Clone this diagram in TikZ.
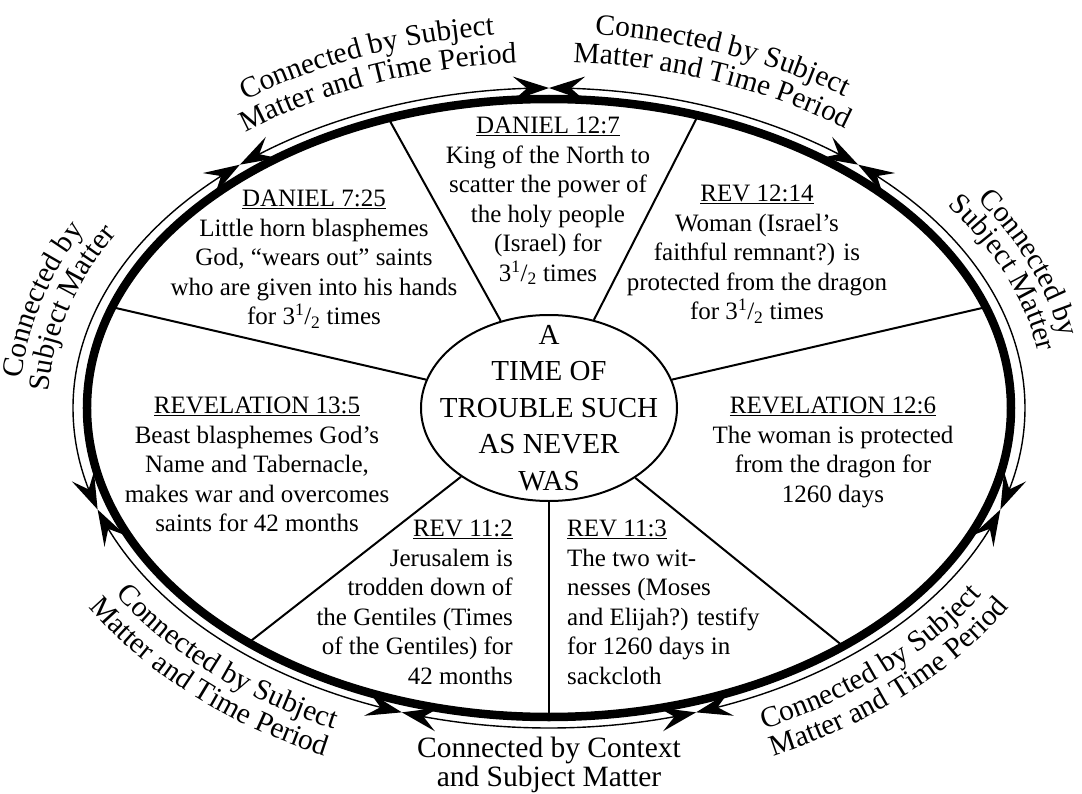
\documentclass[tikz,border=0pt]{standalone}
\usepackage{fontspec}
\setmainfont{Liberation Serif}
\usetikzlibrary{shapes.geometric,arrows.meta,bending,decorations.text}
\newcommand\lblfont{\fontsize{29.5}{30}\selectfont}
\begin{document}
\begin{tikzpicture}[x=1pt,y=1pt,
  sect/.style={font=\fontsize{25}{29.5}\selectfont, inner sep=0pt},
  spoke/.style={line width=2pt},
  tipx/.tip={Stealth[length=36pt,width=24pt,inset=14pt]},
  connarc/.style={line width=1.4pt, tipx-tipx},
  lbl/.style={decorate, decoration={text along path, text align=center, text={#1}}},
]
\useasboundingbox (-549,-385) rectangle (533,408);
% rings
\node[ellipse, draw, line width=8.5pt, minimum width=924pt, minimum height=618pt, inner sep=0pt, outer sep=0pt] (ring) at (0,0) {};
\node[ellipse, draw, line width=2pt, fill=white, minimum width=256pt, minimum height=186pt, inner sep=0pt] (core) at (0,0) {};
% spokes
\draw[spoke] (core) -- (ring.119.5);
\draw[spoke] (core) -- (ring.63.5);
\draw[spoke] (core) -- (ring.13.3);
\draw[spoke] (core) -- (ring.-39);
\draw[spoke] (core) -- (ring.-90);
\draw[spoke] (core) -- (ring.-142.4);
\draw[spoke] (core) -- (ring.167);
% junctions on thin ring
\coordinate (j1) at ({476*cos(49.5)},{320*sin(49.5)});
\coordinate (j2) at ({476*cos(90)},{320*sin(90)});
\coordinate (j3) at ({476*cos(130.5)},{320*sin(130.5)});
\coordinate (j4) at ({476*cos(198.5)},{320*sin(198.5)});
\coordinate (j5) at ({476*cos(252)},{320*sin(252)});
\coordinate (j6) at ({476*cos(288)},{320*sin(288)});
\coordinate (j7) at ({476*cos(-18.5)},{320*sin(-18.5)});
\draw[connarc] (j1) arc[start angle=49.5, end angle=90, x radius=476, y radius=320];
\draw[connarc] (j2) arc[start angle=90, end angle=130.5, x radius=476, y radius=320];
\draw[connarc] (j3) arc[start angle=130.5, end angle=198.5, x radius=476, y radius=320];
\draw[connarc] (j4) arc[start angle=198.5, end angle=252, x radius=476, y radius=320];
\draw[connarc] (j5) arc[start angle=252, end angle=288, x radius=476, y radius=320];
\draw[connarc] (j6) arc[start angle=288, end angle=341.5, x radius=476, y radius=320];
\draw[connarc] (j7) arc[start angle=-18.5, end angle=49.5, x radius=476, y radius=320];
% curved labels: top-left
\path[lbl={|\lblfont|Connected by Subject}] ({531*cos(136)},{375*sin(136)}) arc[start angle=136, end angle=86, x radius=531, y radius=375];
\path[lbl={|\lblfont|Matter and Time Period}] ({502*cos(136)},{346*sin(136)}) arc[start angle=136, end angle=86, x radius=502, y radius=346];
% top-right
\path[lbl={|\lblfont|Connected by Subject}] ({531*cos(95)},{375*sin(95)}) arc[start angle=95, end angle=45, x radius=531, y radius=375];
\path[lbl={|\lblfont|Matter and Time Period}] ({502*cos(95)},{346*sin(95)}) arc[start angle=95, end angle=45, x radius=502, y radius=346];
% right
\path[lbl={|\lblfont|Connected by}] ({522*cos(53)},{366*sin(53)}) arc[start angle=53, end angle=-11, x radius=522, y radius=366];
\path[lbl={|\lblfont|Subject Matter}] ({496*cos(53)},{340*sin(53)}) arc[start angle=53, end angle=-11, x radius=496, y radius=340];
% left
\path[lbl={|\lblfont|Connected by}] ({529*cos(197)},{373*sin(197)}) arc[start angle=197, end angle=133, x radius=529, y radius=373];
\path[lbl={|\lblfont|Subject Matter}] ({501*cos(197)},{345*sin(197)}) arc[start angle=197, end angle=133, x radius=501, y radius=345];
% bottom-left
\path[lbl={|\lblfont|Connected by Subject}] ({510*cos(202.5)},{354*sin(202.5)}) arc[start angle=202.5, end angle=252.5, x radius=510, y radius=354];
\path[lbl={|\lblfont|Matter and Time Period}] ({539*cos(202.5)},{383*sin(202.5)}) arc[start angle=202.5, end angle=252.5, x radius=539, y radius=383];
% bottom-right
\path[lbl={|\lblfont|Connected by Subject}] ({510*cos(-72.5)},{354*sin(-72.5)}) arc[start angle=-72.5, end angle=-22.5, x radius=510, y radius=354];
\path[lbl={|\lblfont|Matter and Time Period}] ({539*cos(-72.5)},{383*sin(-72.5)}) arc[start angle=-72.5, end angle=-22.5, x radius=539, y radius=383];
% bottom
\node[font=\fontsize{29.5}{28.5}\selectfont, align=center, anchor=north, inner sep=0pt] (ctx) at (0,-329) {Connected by Context\\and Subject Matter};
% centre
\node[font=\fontsize{29}{36.5}\selectfont, align=center, inner sep=0pt] (coretext) at (core) {A\\TIME OF\\TROUBLE SUCH\\AS NEVER\\WAS};
% sectors
\node[sect, align=center, anchor=north] (d725) at (-235,218) {\underline{DANIEL 7:25}\\Little horn blasphemes\\God, “wears out” saints\\who are given into his hands\\for 3\textsuperscript{1}/\textsubscript{2} times};
\node[sect, align=center, anchor=north] (d127) at (-1,291) {\underline{DANIEL 12:7}\\King of the North to\\scatter the power of\\the holy people\\(Israel) for\\3\textsuperscript{1}/\textsubscript{2} times};
\node[sect, align=center, anchor=north] (r1214) at (208,223) {\underline{REV 12:14}\\Woman (Israel’s\\faithful remnant?) is\\protected from the dragon\\for 3\textsuperscript{1}/\textsubscript{2} times};
\node[sect, align=center, anchor=north] (r126) at (284,11) {\underline{REVELATION 12:6}\\The woman is protected\\from the dragon for\\1260 days};
\node[sect, align=left, anchor=north west] (r113) at (18,-112) {\underline{REV 11:3}\\The two wit-\\nesses (Moses\\and Elijah?) testify\\for 1260 days in\\sackcloth};
\node[sect, align=right, anchor=north east] (r112) at (-36,-112) {\underline{REV 11:2}\\Jerusalem is\\trodden down of\\the Gentiles (Times\\of the Gentiles) for\\42 months};
\node[sect, align=center, anchor=north] (r135) at (-292,11) {\underline{REVELATION 13:5}\\Beast blasphemes God’s\\Name and Tabernacle,\\makes war and overcomes\\saints for 42 months};
\end{tikzpicture}
\end{document}
